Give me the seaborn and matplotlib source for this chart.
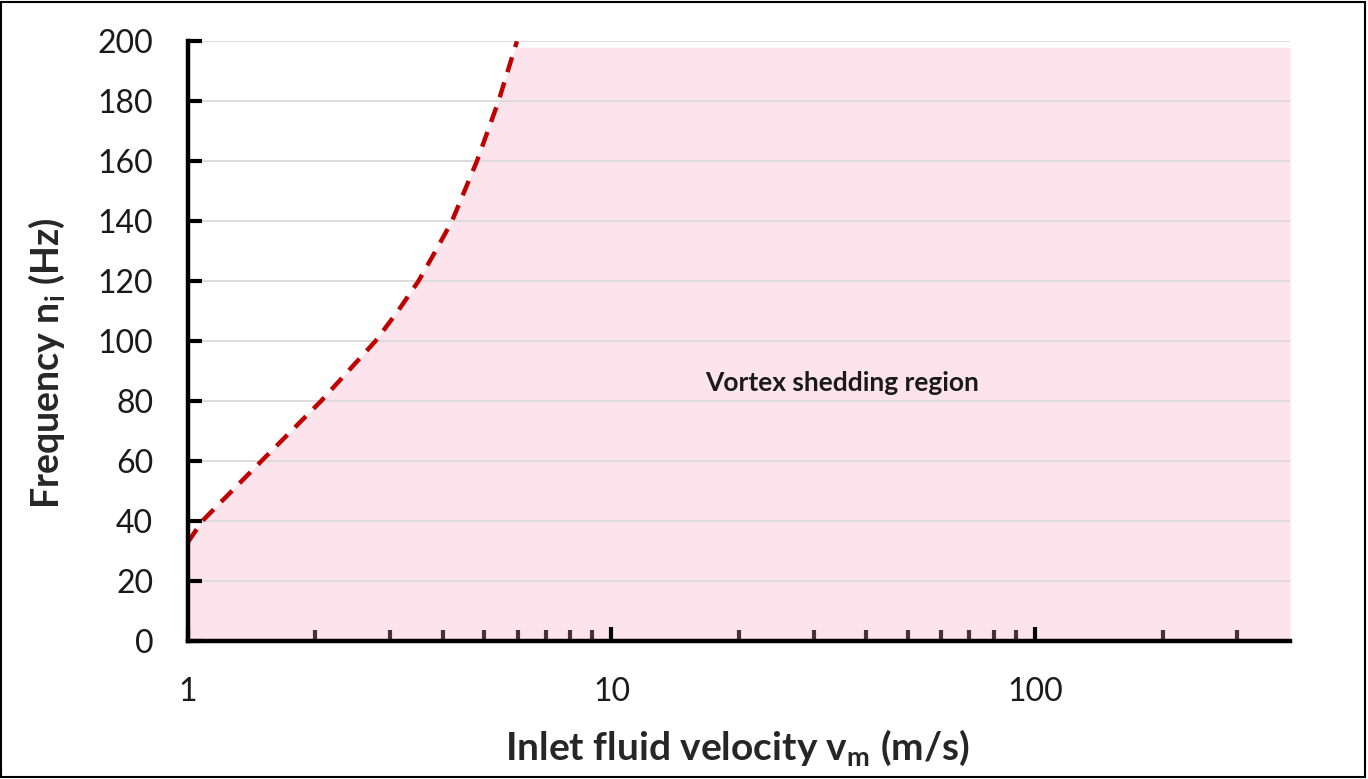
import numpy as np
import pandas as pd
import matplotlib
matplotlib.use("Agg")
import matplotlib.pyplot as plt
import seaborn as sns
from matplotlib.ticker import FixedLocator, NullFormatter, FixedFormatter

# Boundary curve
curve_v = [1.0, 1.08, 1.49, 2.06, 2.77, 3.13, 3.50, 3.84, 4.20, 4.81, 5.41, 5.98]
curve_f = [33, 40, 60, 80, 100, 110, 120, 130, 140, 160, 180, 200]
# shaded region limits
region_v_max = 400
region_f_top = 198
y_ticks = [0, 20, 40, 60, 80, 100, 120, 140, 160, 180, 200]
x_major = [1, 10, 100]
x_minor = [2, 3, 4, 5, 6, 7, 8, 9, 20, 30, 40, 50, 60, 70, 80, 90, 200, 300]
region_label = "Vortex shedding region"
label_pos = (35, 86)

sns.set_style("white")
plt.rcParams['font.family'] = ['Lato', 'DejaVu Sans']

fig = plt.figure(figsize=(13.68, 7.79), dpi=100)
ax = fig.add_axes([0.1374, 0.177, 0.8056, 0.770])
ax.set_axisbelow(False)

# shaded region: for each frequency, from max(1, curve) to region_v_max
fy = np.array([0] + [f for f in curve_f if f <= region_f_top] + [region_f_top], dtype=float)
cv = np.interp(fy, curve_f, curve_v)
cv = np.maximum(cv, 1.0)
ax.fill_betweenx(fy, cv, region_v_max, color="#fde4ec", lw=0, zorder=1)

df = pd.DataFrame({"v": curve_v, "f": curve_f})
sns.lineplot(data=df, x="v", y="f", ax=ax, color="#c00000", lw=3.2,
             linestyle=(0, (3.5, 2.4)), zorder=3, estimator=None, sort=False)

ax.set_xscale("log")
ax.set_xlim(1, 400)
ax.set_ylim(0, 200)

for y in y_ticks[1:]:
    ax.plot([1, region_v_max], [y, y], color="#d9d9d9", lw=1.3, zorder=2)

ax.yaxis.set_major_locator(FixedLocator(y_ticks))
ax.xaxis.set_major_locator(FixedLocator(x_major))
ax.xaxis.set_major_formatter(FixedFormatter([str(v) for v in x_major]))
ax.xaxis.set_minor_locator(FixedLocator(x_minor))
ax.xaxis.set_minor_formatter(NullFormatter())

ax.tick_params(axis="x", which="both", bottom=True, top=False)
ax.tick_params(axis="y", which="both", left=True, right=False)
ax.tick_params(axis="both", which="major", direction="in", length=10, width=3,
               labelsize=23, color="black", labelcolor="#1a1a1a")
ax.tick_params(axis="x", which="major", pad=26)
ax.tick_params(axis="y", which="major", pad=25)
ax.tick_params(axis="x", which="minor", direction="in", length=8, width=3, color="#4a3038")
ax.tick_params(axis="y", which="minor", left=False)

for s in ["top", "right"]:
    ax.spines[s].set_visible(False)
for s in ["left", "bottom"]:
    ax.spines[s].set_linewidth(3.2)
    ax.spines[s].set_color("black")
    ax.spines[s].set_zorder(4)

ax.set_xlabel(r"Inlet fluid velocity v$_\mathregular{m}$ (m/s)", fontsize=28,
              fontweight="bold", va="center")
ax.set_ylabel(r"Frequency n$_\mathregular{i}$ (Hz)", fontsize=27,
              fontweight="bold", va="center")
ax.xaxis.set_label_coords(0.499, -0.177)
ax.yaxis.set_label_coords(-0.128, 0.463)

ax.text(label_pos[0], label_pos[1], region_label, ha="center", va="center",
        fontsize=19, fontweight="bold", color="#1a1a1a", zorder=5)

# figure border
fig.patches.append(plt.Rectangle((0.001, 0.002), 0.997, 0.996, transform=fig.transFigure,
                                 fill=False, edgecolor="black", lw=1.5))

fig.savefig("out.png", dpi=100)
